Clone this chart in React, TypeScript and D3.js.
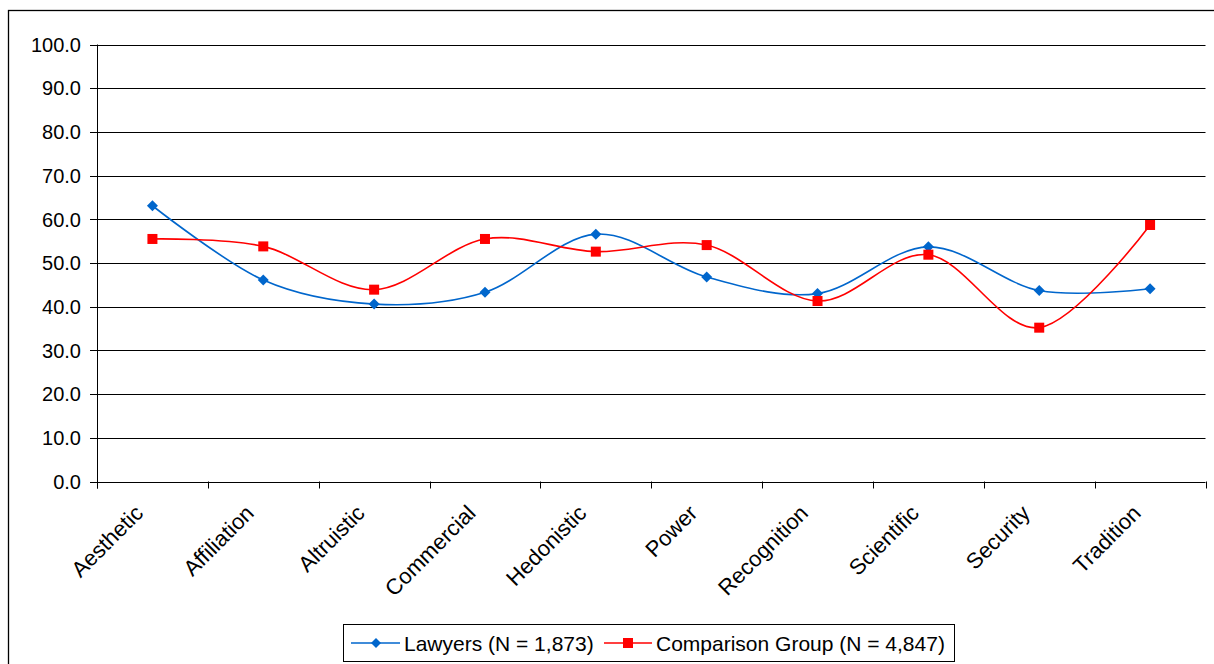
import React from 'react'
import * as d3 from 'd3'

const categories = ['Aesthetic', 'Affiliation', 'Altruistic', 'Commercial', 'Hedonistic', 'Power', 'Recognition', 'Scientific', 'Security', 'Tradition']
const lawyers = [63.1, 46.1, 40.6, 43.3, 56.6, 46.8, 43.0, 53.7, 43.7, 44.1]
const comparison = [55.5, 53.8, 43.9, 55.5, 52.6, 54.1, 41.3, 51.9, 35.2, 58.7]
const yTicks = [0, 10, 20, 30, 40, 50, 60, 70, 80, 90, 100]
const legendLabels = ['Lawyers (N = 1,873)', 'Comparison Group (N = 4,847)']

const BLUE = '#0066CC'
const RED = '#FF0000'
const FONT = 'Liberation Sans, Arial, sans-serif'

const App = () => {
  const width = 1214
  const height = 664
  const left = 97
  const right = 1205.5
  const top = 44.5
  const bottom = 481.5

  const x = d3.scaleBand<string>().domain(categories).range([left, right])
  const y = d3.scaleLinear().domain([0, 100]).range([bottom, top])
  const cx = (c: string) => (x(c) as number) + x.bandwidth() / 2

  // excel-style smoothed line
  const line = d3
    .line<number>()
    .x((d, i) => cx(categories[i]))
    .y(d => y(d))
    .curve(d3.curveCardinal.tension(0))

  const tickEdges = categories.map(c => x(c) as number).concat([right])

  const diamond = (px: number, py: number, r: number) =>
    `M${px},${py - r}L${px + r},${py}L${px},${py + r}L${px - r},${py}Z`

  return (
    <svg
      width={width}
      height={height}
      style={{ position: 'absolute', left: 0, top: 0, background: '#fff' }}
      fontFamily={FONT}
    >
      <rect x={8.5} y={10.5} width={1230} height={680} fill="#fff" stroke="#000" strokeWidth={1.3} />

      {/* grid + y axis */}
      {yTicks.map(t => (
        <g key={t}>
          <line x1={left - 7} x2={right} y1={Math.round(y(t)) + 0.5} y2={Math.round(y(t)) + 0.5} stroke="#000" strokeWidth={1} />
          <text x={81} y={y(t)} dy="0.36em" textAnchor="end" fontSize={20} fill="#000">
            {t.toFixed(1)}
          </text>
        </g>
      ))}
      <line x1={left + 0.5} x2={left + 0.5} y1={top} y2={bottom + 7} stroke="#000" strokeWidth={1} />

      {/* x axis */}
      {tickEdges.map((e, i) => (
        <line key={i} x1={Math.round(e) + 0.5} x2={Math.round(e) + 0.5} y1={bottom} y2={bottom + 7} stroke="#000" strokeWidth={1} />
      ))}
      {categories.map(c => (
        <text
          key={c}
          transform={`translate(${cx(c) - 8},${bottom + 33}) rotate(-45)`}
          textAnchor="end"
          fontSize={22}
          fill="#000"
        >
          {c}
        </text>
      ))}

      {/* series */}
      <path d={line(lawyers) || ''} fill="none" stroke={BLUE} strokeWidth={1.6} />
      <path d={line(comparison) || ''} fill="none" stroke={RED} strokeWidth={1.6} />
      {lawyers.map((v, i) => (
        <path key={'l' + i} d={diamond(cx(categories[i]), y(v), 5.5)} fill={BLUE} />
      ))}
      {comparison.map((v, i) => (
        <rect key={'c' + i} x={cx(categories[i]) - 5} y={y(v) - 5} width={10} height={10} fill={RED} />
      ))}

      {/* legend */}
      <rect x={343.5} y={624.5} width={611} height={37} fill="#fff" stroke="#000" strokeWidth={1} />
      <line x1={351} x2={400} y1={643} y2={643} stroke={BLUE} strokeWidth={1.6} />
      <path d={diamond(376, 643, 5)} fill={BLUE} />
      <text x={404} y={643} dy="0.36em" fontSize={21} fill="#000">
        {legendLabels[0]}
      </text>
      <line x1={604} x2={652} y1={643} y2={643} stroke={RED} strokeWidth={1.6} />
      <rect x={623} y={638} width={10} height={10} fill={RED} />
      <text x={656} y={643} dy="0.36em" fontSize={21} fill="#000">
        {legendLabels[1]}
      </text>
    </svg>
  )
}

export default App
